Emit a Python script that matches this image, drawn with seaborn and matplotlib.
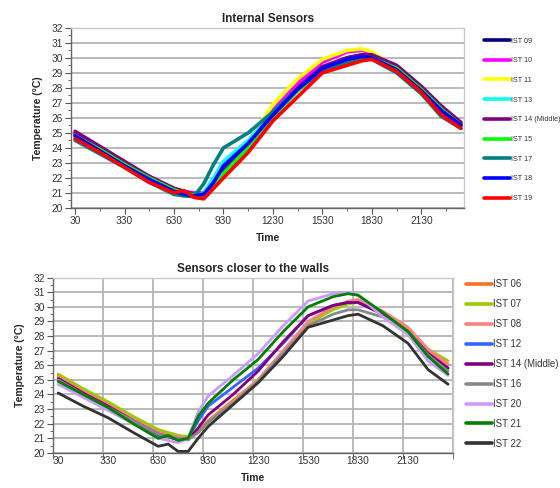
import matplotlib
matplotlib.use("Agg")
import matplotlib.pyplot as plt
from matplotlib.ticker import MultipleLocator, FixedLocator
from matplotlib.lines import Line2D
import seaborn as sns
import pandas as pd

# ---------------- data ----------------
times = [30, 180, 330, 480, 630, 690, 750, 810, 870, 930, 1080, 1230,
         1380, 1530, 1680, 1770, 1830, 1980, 2130, 2250, 2370]

top_labels = ["IST 09", "IST 10", "IST 11", "IST 13", "IST 14 (Middle)",
              "IST 15", "IST 17", "IST 18", "IST 19"]
top_colors = ["#000080", "#FF00FF", "#FFFF00", "#00FFFF", "#800080",
              "#00FF00", "#008080", "#0000FF", "#FF0000"]
ist09 = [24.9, 23.9, 22.9, 22.0, 21.2, 21.0, 20.85, 20.9, 21.5, 22.6, 24.3, 26.3, 28.0, 29.4, 30.0, 30.2, 30.1, 29.3, 27.9, 26.6, 25.6]
ist10 = [25.0, 24.0, 23.0, 22.1, 21.3, 21.1, 21.0, 21.0, 21.6, 22.7, 24.3, 26.5, 28.3, 29.7, 30.4, 30.5, 30.3, 29.3, 27.9, 26.6, 25.6]
ist11 = [24.8, 23.9, 22.9, 22.0, 21.2, 21.0, 20.9, 20.9, 21.5, 22.5, 24.4, 26.9, 28.6, 29.9, 30.5, 30.6, 30.4, 29.3, 27.8, 26.5, 25.5]
ist13 = [24.7, 23.8, 22.8, 21.9, 21.1, 20.9, 20.8, 21.0, 22.0, 23.1, 24.5, 26.3, 28.0, 29.3, 29.9, 30.1, 30.0, 29.2, 27.8, 26.5, 25.5]
ist14 = [25.1, 24.1, 23.1, 22.1, 21.3, 21.1, 20.9, 20.9, 21.4, 22.5, 24.2, 26.3, 28.0, 29.4, 30.0, 30.2, 30.2, 29.5, 28.1, 26.8, 25.7]
ist15 = [24.8, 23.9, 22.9, 22.0, 21.2, 21.0, 20.85, 20.8, 21.5, 22.3, 24.0, 26.1, 27.8, 29.2, 29.8, 30.0, 30.0, 29.3, 27.9, 26.6, 25.5]
ist17 = [24.5, 23.6, 22.7, 21.7, 20.9, 20.8, 20.75, 21.6, 22.9, 24.0, 25.0, 26.4, 27.9, 29.2, 29.7, 29.9, 29.9, 29.0, 27.6, 26.1, 25.3]
ist18 = [24.8, 23.8, 22.8, 21.9, 21.1, 20.9, 20.8, 20.9, 21.7, 22.8, 24.3, 26.2, 27.9, 29.3, 29.9, 30.1, 30.0, 29.2, 27.8, 26.5, 25.5]
ist19 = [24.6, 23.7, 22.7, 21.7, 21.0, 21.15, 20.7, 20.6, 21.3, 22.0, 23.7, 25.8, 27.4, 29.0, 29.5, 29.8, 29.9, 29.1, 27.7, 26.2, 25.3]
top_values = [ist09, ist10, ist11, ist13, ist14, ist15, ist17, ist18, ist19]

bot_labels = ["IST 06", "IST 07", "IST 08", "IST 12", "IST 14 (Middle)",
              "IST 16", "IST 20", "IST 21", "IST 22"]
bot_colors = ["#FF7020", "#99CC00", "#FF8080", "#3366FF", "#800080",
              "#888888", "#CC99FF", "#008000", "#333333"]
ist06 = [25.3, 24.3, 23.4, 22.4, 21.5, 21.3, 21.1, 21.0, 21.5, 22.2, 23.6, 25.0, 26.9, 28.8, 29.9, 30.3, 30.3, 29.5, 28.5, 27.0, 26.0]
ist07 = [25.4, 24.4, 23.5, 22.5, 21.6, 21.4, 21.2, 21.1, 21.4, 22.1, 23.5, 25.0, 26.9, 28.9, 29.8, 30.2, 30.3, 29.6, 28.5, 27.1, 26.3]
ist08 = [25.2, 24.2, 23.3, 22.3, 21.4, 21.2, 21.1, 21.0, 21.4, 22.1, 23.5, 25.0, 27.0, 29.0, 30.0, 30.4, 30.5, 29.7, 28.6, 27.1, 26.1]
ist12 = [25.0, 24.0, 23.1, 22.2, 21.2, 21.1, 20.9, 21.0, 22.2, 23.2, 24.5, 25.8, 27.5, 29.4, 30.1, 30.3, 30.3, 29.5, 28.3, 26.8, 25.8]
ist14b = [25.1, 24.1, 23.2, 22.2, 21.3, 21.1, 20.9, 20.9, 21.7, 22.6, 24.0, 25.6, 27.6, 29.4, 30.1, 30.3, 30.3, 29.5, 28.3, 26.8, 25.8]
ist16 = [25.0, 24.0, 23.1, 22.2, 21.3, 21.1, 21.0, 20.9, 21.4, 22.1, 23.4, 24.9, 26.8, 28.7, 29.5, 29.8, 29.8, 29.3, 28.3, 26.7, 25.6]
ist20 = [24.7, 23.8, 22.9, 22.0, 21.0, 20.85, 20.7, 21.0, 22.8, 23.9, 25.3, 26.8, 28.7, 30.4, 30.9, 31.0, 30.8, 29.3, 28.1, 26.3, 25.3]
ist21 = [24.9, 24.0, 23.1, 22.0, 21.0, 21.2, 20.85, 21.0, 22.5, 23.4, 25.0, 26.4, 28.3, 30.0, 30.7, 30.9, 30.8, 29.6, 28.3, 26.6, 25.4]
ist22 = [24.1, 23.2, 22.4, 21.4, 20.45, 20.6, 20.1, 20.1, 21.0, 21.8, 23.3, 24.8, 26.6, 28.6, 29.1, 29.4, 29.5, 28.7, 27.5, 25.7, 24.7]
bot_values = [ist06, ist07, ist08, ist12, ist14b, ist16, ist20, ist21, ist22]

x_labels = [30, 330, 630, 930, 1230, 1530, 1830, 2130]


def long_frame(labels, values):
    rows = []
    for lab, vals in zip(labels, values):
        for t, v in zip(times, vals):
            rows.append({"Time": t, "Temp": v, "Sensor": lab})
    return pd.DataFrame(rows)


sns.set_style("white")
FONT = ["Liberation Sans", "DejaVu Sans"]
plt.rcParams["font.family"] = FONT

fig = plt.figure(figsize=(5.6, 4.88), dpi=100)
ax1 = fig.add_axes([0.127, 0.574, 0.702, 0.369])
ax2 = fig.add_axes([0.095, 0.072, 0.714, 0.359])

GRID = "#B4B4B4"
TXT = "#333333"


def style_axis(ax, title, xlim, vgrid):
    ax.set_xlim(*xlim)
    ax.set_ylim(20, 32)
    ax.yaxis.set_major_locator(MultipleLocator(1))
    ax.yaxis.set_minor_locator(MultipleLocator(0.5))
    ax.xaxis.set_major_locator(FixedLocator(x_labels))
    ax.set_xticklabels([str(v) for v in x_labels])
    ax.grid(True, axis="y", which="major", color=GRID, lw=1.3)
    if vgrid:
        ax.xaxis.set_minor_locator(MultipleLocator(300))
        ax.grid(True, axis="x", which="minor", color=GRID, lw=1.3)
        ax.tick_params(axis="x", which="major", length=0)
        ax.tick_params(axis="x", which="minor", length=4, color="#555555")
    else:
        ax.xaxis.set_minor_locator(FixedLocator([180 + 300 * k for k in range(8)]))
        ax.tick_params(axis="x", which="major", length=4, color="#555555")
        ax.tick_params(axis="x", which="minor", length=2.5, color="#555555")
    ax.tick_params(axis="y", which="major", length=4, color="#555555")
    ax.tick_params(axis="y", which="minor", length=2, color="#555555")
    ax.tick_params(axis="both", labelsize=7.3, labelcolor=TXT, pad=2,
                   direction="out")
    ax.tick_params(axis="both", which="both", left=True, bottom=True)
    for s in ["left", "bottom"]:
        ax.spines[s].set_color("#666666")
        ax.spines[s].set_linewidth(1.0)
    for s in ["top", "right"]:
        ax.spines[s].set_color("#C8C8C8")
        ax.spines[s].set_linewidth(1.0)
    ax.set_axisbelow(True)
    ax.set_title(title, fontsize=8.5, fontweight="bold", pad=4)
    ax.set_xlabel("Time", fontsize=7.5, fontweight="bold", labelpad=5)
    ax.set_ylabel("Temperature (°C)", fontsize=7.5, fontweight="bold",
                  labelpad=6)


df1 = long_frame(top_labels, top_values)
sns.lineplot(data=df1, x="Time", y="Temp", hue="Sensor", hue_order=top_labels,
             palette=top_colors, lw=2.6, ax=ax1, sort=False, legend=False)
df2 = long_frame(bot_labels, bot_values)
sns.lineplot(data=df2, x="Time", y="Temp", hue="Sensor", hue_order=bot_labels,
             palette=bot_colors, lw=2.0, ax=ax2, sort=False, legend=False)

style_axis(ax1, "Internal Sensors", (6, 2390), vgrid=False)
style_axis(ax2, "Sensors closer to the walls", (0, 2400), vgrid=True)

h1 = [Line2D([], [], color=c, lw=2.6) for c in top_colors]
h2 = [Line2D([], [], color=c, lw=2.6) for c in bot_colors]
fig.legend(h1, top_labels, loc="upper left", bbox_to_anchor=(0.860, 0.929),
           frameon=False, fontsize=5.2, handlelength=3.5, handletextpad=0.15,
           labelspacing=1.75, borderaxespad=0, labelcolor=TXT)
fig.legend(h2, bot_labels, loc="upper left", bbox_to_anchor=(0.826, 0.436),
           frameon=False, fontsize=6.9, handlelength=2.7, handletextpad=0.1,
           labelspacing=1.04, borderaxespad=0, labelcolor=TXT)

fig.savefig("out.png", dpi=100)
